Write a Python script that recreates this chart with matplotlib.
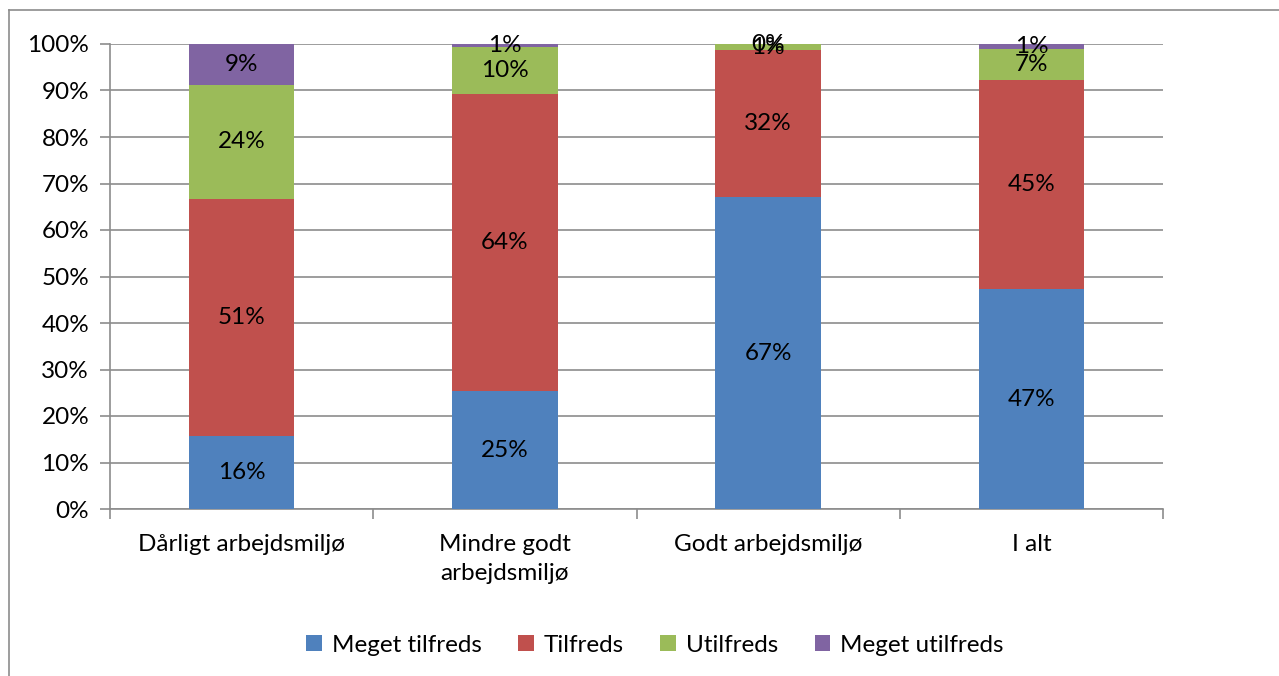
import matplotlib
matplotlib.use("Agg")
import matplotlib.pyplot as plt
from matplotlib.lines import Line2D
import numpy as np

plt.rcParams['font.family'] = ['Lato', 'DejaVu Sans']

categories = ["Dårligt arbejdsmiljø", "Mindre godt\narbejdsmiljø", "Godt arbejdsmiljø", "I alt"]
series_names = ["Meget tilfreds", "Tilfreds", "Utilfreds", "Meget utilfreds"]
meget_tilfreds = [15.7, 25.3, 67.0, 47.3]
tilfreds = [51.0, 63.9, 31.7, 45.0]
utilfreds = [24.5, 10.2, 1.2, 6.6]
meget_utilfreds = [8.8, 0.6, 0.1, 1.1]
colors = ["#4F81BD", "#C0504D", "#9BBB59", "#8064A2"]
yticks = [0, 10, 20, 30, 40, 50, 60, 70, 80, 90, 100]

FS = 17.5
W, H = 1279, 676
fig = plt.figure(figsize=(W / 100, H / 100), dpi=100)
ax = fig.add_axes([110 / W, 1 - 509 / H, (1163 - 110) / W, (509 - 44) / H])

series = [meget_tilfreds, tilfreds, utilfreds, meget_utilfreds]
x = np.arange(len(categories))
bottom = np.zeros(len(categories))
for name, vals, c in zip(series_names, series, colors):
    vals = np.array(vals)
    ax.bar(x, vals, bottom=bottom, width=0.4, color=c, label=name, zorder=3)
    for xi, b, v in zip(x, bottom, vals):
        ax.text(xi, b + v / 2, f"{v:.0f}%", ha='center', va='center', fontsize=FS, color='black', zorder=4)
    bottom += vals

ax.set_xlim(-0.5, len(categories) - 0.5)
ax.set_ylim(0, 100)
ax.set_yticks(yticks)
ax.set_yticklabels([f"{t}%" for t in yticks], fontsize=FS)
ax.yaxis.grid(True, color='#8c8c8c', linewidth=1.2, zorder=0)
ax.set_axisbelow(True)

ax.set_xticks(np.arange(len(categories) + 1) - 0.5)
ax.set_xticklabels([])
ax.set_xticks(x, minor=True)
ax.set_xticklabels(categories, minor=True, fontsize=FS, linespacing=1.45)
ax.tick_params(axis='x', which='minor', length=0, pad=18)
ax.tick_params(axis='x', which='major', length=7, color='#8c8c8c', width=1.2)
ax.tick_params(axis='y', length=7, color='#8c8c8c', width=1.2, pad=8)

for s in ['top', 'right']:
    ax.spines[s].set_visible(False)
for s in ['left', 'bottom']:
    ax.spines[s].set_color('#8c8c8c')
    ax.spines[s].set_linewidth(1.2)

leg = fig.legend(loc='center', bbox_to_anchor=(655 / W, 1 - 645 / H), ncol=4, frameon=False,
                 fontsize=FS, handlelength=0.65, handleheight=0.65, columnspacing=1.5, handletextpad=0.4)

# figure border (top and left)
fig.add_artist(Line2D([9 / W, 1], [1 - 10 / H, 1 - 10 / H], color='#8c8c8c', linewidth=1.2, transform=fig.transFigure))
fig.add_artist(Line2D([9 / W, 9 / W], [0, 1 - 10 / H], color='#8c8c8c', linewidth=1.2, transform=fig.transFigure))

fig.savefig("out.png", dpi=100)
